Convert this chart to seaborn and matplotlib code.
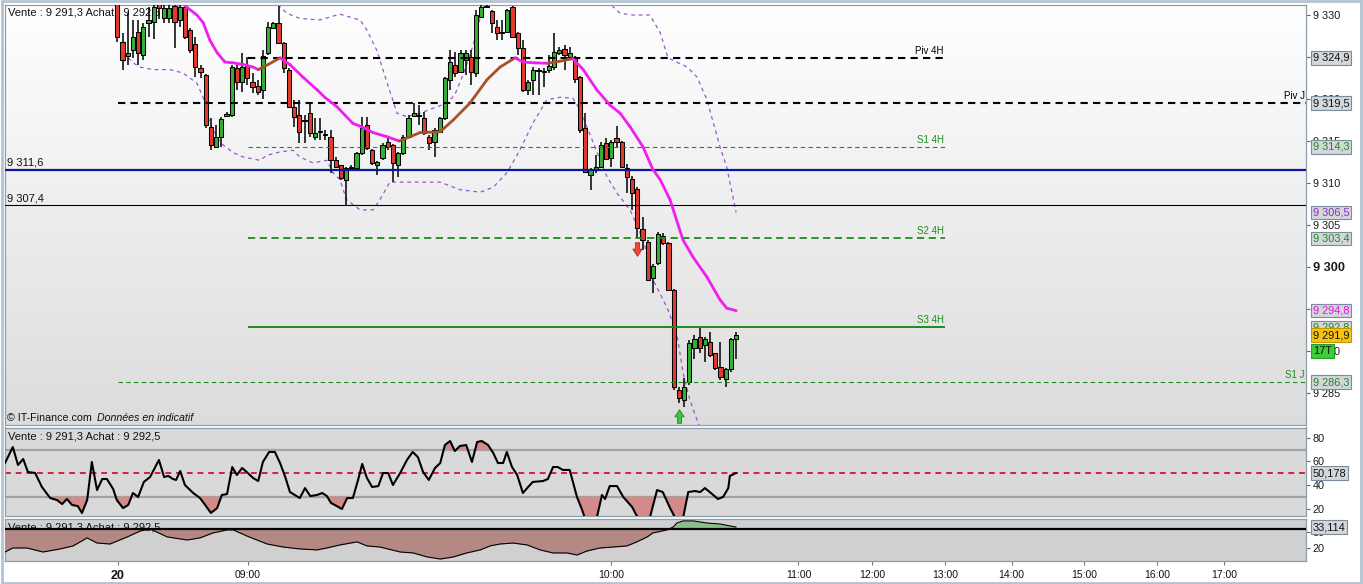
import numpy as np
import matplotlib
matplotlib.use("Agg")
import matplotlib.pyplot as plt
import matplotlib.transforms as mtransforms
from matplotlib.collections import LineCollection
from matplotlib.colors import LinearSegmentedColormap
from matplotlib.patches import Rectangle
from matplotlib.path import Path
import seaborn as sns

sns.set_theme(style="white")
plt.rcParams["font.family"] = ["Liberation Sans", "DejaVu Sans"]

# ---------------- data ----------------
opens = [9331.6, 9326.8, 9325.1, 9325.8, 9328.0, 9325.2, 9329.0, 9329.2, 9331.5, 9329.6,
         9329.6, 9331.1, 9329.4, 9331.0, 9328.2, 9326.5, 9323.7, 9322.9, 9316.7, 9314.3,
         9315.5, 9318.0, 9318.1, 9323.7, 9322.0, 9324.0, 9322.0, 9321.5, 9321.1, 9325.5,
         9328.4, 9329.0, 9326.7, 9323.5, 9319.0, 9318.1, 9317.5, 9318.3, 9315.5, 9316.1,
         9315.7, 9315.5, 9312.7, 9312.1, 9310.4, 9311.8, 9311.8, 9313.6, 9316.9, 9313.9,
         9312.1, 9313.0, 9314.9, 9314.5, 9312.1, 9313.6, 9315.5, 9318.0, 9318.1, 9317.7,
         9315.5, 9314.9, 9316.1, 9317.7, 9322.3, 9324.0, 9323.2, 9324.6, 9325.0, 9323.1,
         9329.8, 9330.9, 9330.5, 9328.6, 9328.0, 9328.0, 9331.0, 9327.9, 9326.1, 9321.1,
         9322.3, 9323.3, 9323.2, 9323.5, 9323.8, 9325.5, 9325.9, 9325.0, 9325.0, 9322.6,
         9316.5, 9311.0, 9311.5, 9311.9, 9314.8, 9313.0, 9315.4, 9314.9, 9311.8, 9310.5,
         9309.3, 9304.5, 9303.0, 9298.7, 9300.5, 9303.7, 9302.9, 9297.3, 9285.4, 9284.2,
         9286.3, 9290.4, 9291.7, 9290.7, 9291.1, 9289.8, 9288.1, 9286.7, 9287.8, 9291.4]
highs = [9332.5, 9327.9, 9330.2, 9329.4, 9329.4, 9329.0, 9331.0, 9331.5, 9332.0, 9331.5,
         9331.3, 9331.5, 9331.5, 9331.5, 9328.4, 9327.4, 9324.0, 9323.0, 9317.7, 9316.9,
         9317.9, 9318.5, 9324.0, 9324.3, 9325.5, 9325.0, 9323.1, 9322.3, 9325.8, 9329.2,
         9329.2, 9331.1, 9326.8, 9323.7, 9319.9, 9319.9, 9318.1, 9319.5, 9317.7, 9317.7,
         9316.3, 9316.3, 9313.1, 9312.2, 9311.9, 9312.2, 9313.7, 9317.9, 9317.9, 9314.0,
         9312.6, 9314.8, 9315.4, 9314.6, 9313.7, 9315.7, 9318.1, 9319.5, 9319.3, 9318.5,
         9315.7, 9316.5, 9317.9, 9322.6, 9325.8, 9325.6, 9325.8, 9325.8, 9325.8, 9330.6,
         9331.2, 9331.2, 9330.6, 9329.4, 9329.4, 9330.7, 9331.1, 9328.0, 9327.0, 9322.3,
         9323.8, 9323.7, 9323.7, 9325.2, 9327.9, 9326.2, 9326.4, 9326.2, 9325.1, 9322.7,
         9318.3, 9311.8, 9313.3, 9314.9, 9315.4, 9315.1, 9316.8, 9315.0, 9312.3, 9310.8,
         9309.5, 9305.9, 9303.2, 9300.4, 9304.2, 9304.1, 9303.0, 9297.4, 9285.7, 9286.8,
         9291.3, 9291.9, 9292.9, 9291.7, 9292.3, 9289.8, 9291.1, 9288.0, 9291.6, 9292.3]
lows = [9326.8, 9323.4, 9324.0, 9324.9, 9324.0, 9324.6, 9327.4, 9327.1, 9329.5, 9329.0,
        9329.0, 9326.1, 9328.6, 9327.2, 9325.5, 9322.6, 9322.5, 9316.5, 9313.9, 9314.2,
        9314.3, 9317.8, 9317.9, 9321.1, 9320.8, 9321.7, 9320.7, 9320.5, 9320.0, 9325.2,
        9328.3, 9326.6, 9323.1, 9318.9, 9316.7, 9314.8, 9314.8, 9315.5, 9315.1, 9315.1,
        9315.1, 9311.2, 9311.8, 9310.4, 9307.4, 9311.4, 9311.6, 9313.3, 9313.9, 9312.1,
        9311.0, 9312.7, 9313.9, 9310.1, 9310.7, 9313.3, 9315.4, 9317.9, 9316.9, 9315.7,
        9313.9, 9313.1, 9316.0, 9317.5, 9321.1, 9322.6, 9323.1, 9322.9, 9321.7, 9322.6,
        9329.6, 9330.8, 9327.9, 9327.0, 9327.0, 9327.9, 9327.3, 9325.2, 9320.8, 9320.5,
        9320.5, 9320.5, 9321.4, 9323.1, 9323.5, 9325.2, 9323.5, 9324.6, 9321.9, 9315.9,
        9311.2, 9309.2, 9311.2, 9311.8, 9312.7, 9311.9, 9314.3, 9311.8, 9308.8, 9306.8,
        9303.5, 9302.0, 9298.4, 9296.9, 9300.2, 9302.6, 9297.2, 9285.4, 9283.8, 9283.3,
        9286.0, 9289.0, 9289.8, 9288.7, 9289.3, 9287.7, 9286.6, 9285.7, 9287.5, 9289.1]
closes = [9327.4, 9324.6, 9325.5, 9327.4, 9325.5, 9328.6, 9329.4, 9331.0, 9330.8, 9330.8,
          9330.8, 9329.2, 9331.0, 9327.4, 9325.8, 9323.8, 9323.2, 9316.9, 9314.5, 9315.5,
          9317.6, 9318.2, 9323.8, 9322.0, 9323.8, 9322.5, 9321.4, 9320.8, 9325.1, 9328.6,
          9329.0, 9326.7, 9323.7, 9319.0, 9317.9, 9316.1, 9317.4, 9315.9, 9316.0, 9316.1,
          9315.8, 9312.7, 9311.9, 9310.6, 9311.8, 9311.9, 9313.6, 9316.5, 9314.2, 9312.4,
          9312.5, 9314.5, 9314.3, 9312.4, 9313.6, 9315.5, 9317.7, 9318.3, 9318.0, 9315.9,
          9314.8, 9316.3, 9317.7, 9322.5, 9324.4, 9323.1, 9325.5, 9325.5, 9323.2, 9330.0,
          9331.0, 9331.0, 9329.0, 9327.9, 9327.9, 9330.6, 9327.4, 9326.1, 9321.1, 9322.0,
          9323.5, 9323.4, 9323.3, 9323.9, 9325.6, 9325.8, 9325.2, 9325.5, 9322.4, 9316.3,
          9311.3, 9311.5, 9311.9, 9314.5, 9312.9, 9314.9, 9314.9, 9311.9, 9310.7, 9308.8,
          9304.6, 9303.2, 9298.5, 9300.1, 9303.9, 9302.9, 9297.3, 9285.7, 9284.4, 9285.7,
          9291.0, 9291.4, 9290.4, 9291.4, 9289.5, 9288.0, 9286.9, 9287.9, 9291.4, 9291.9]

# moving average (vertices, bar index -> price)
ma_x = [13.0, 15.3, 16.5, 17.8, 19.2, 20.7, 22.3, 24.2, 26.1, 27.1, 29.0, 31.3, 33.2, 35.7, 38.4,
        39.9, 42.2, 45.3, 47.3, 49.2, 51.9, 54.2, 56.3, 58.2, 62.1, 64.6, 67.8, 71.1, 73.6, 76.5,
        78.0, 80.3, 82.8, 85.1, 87.6, 89.6, 92.2, 94.7, 96.7, 98.6, 101.1, 103.0, 104.4, 106.3,
        108.8, 110.7, 113.4, 115.9, 117.2, 119.0]
ma_v = [9331.1, 9330.0, 9329.1, 9327.0, 9325.5, 9324.4, 9324.3, 9324.1, 9323.8, 9323.5, 9324.1,
        9324.9, 9324.1, 9322.6, 9321.1, 9320.2, 9319.1, 9317.1, 9316.6, 9316.0, 9315.5, 9315.0,
        9315.5, 9316.0, 9316.1, 9317.5, 9319.5, 9322.3, 9323.8, 9324.9, 9324.4, 9324.3, 9324.25,
        9324.5, 9324.8, 9323.5, 9321.1, 9319.3, 9318.3, 9316.7, 9314.3, 9311.6, 9310.4, 9308.0,
        9303.2, 9301.2, 9298.8, 9296.1, 9295.1, 9294.8]

# envelope bands
up_x = [29.0, 31.3, 32.6, 35.1, 38.9, 42.8, 46.7, 48.0, 49.9, 51.9, 53.8, 55.7, 58.2, 60.7, 63.4,
        64.9, 66.5, 67.8, 69.0, 69.9, 70.9, 79.3, 89.0, 94.3, 95.3, 96.7, 99.2, 102.4, 104.4,
        105.9, 109.6, 111.5, 113.4, 115.9, 117.2, 119.0]
up_v = [9332.5, 9331.0, 9330.2, 9329.6, 9329.4, 9330.1, 9329.4, 9328.2, 9325.8, 9321.9, 9318.3,
        9317.9, 9318.3, 9318.9, 9319.5, 9320.5, 9322.9, 9325.2, 9327.6, 9330.0, 9331.8, 9334.0,
        9334.0, 9332.0, 9331.0, 9330.2, 9330.0, 9330.0, 9327.9, 9324.9, 9323.8, 9322.6, 9319.9,
        9314.3, 9311.9, 9306.5]
lo_x = [2.1, 3.0, 4.4, 6.9, 10.1, 12.6, 15.3, 16.5, 17.8, 19.8, 22.3, 24.2, 27.4, 28.8, 31.3,
        33.8, 35.1, 37.6, 40.3, 41.5, 42.8, 44.1, 46.7, 49.2, 50.5, 52.4, 54.4, 58.2, 62.1, 65.9,
        69.8, 72.3, 74.9, 77.4, 79.9, 82.6, 85.1, 87.6, 89.0, 90.3, 92.3, 94.2, 96.1, 98.6, 100.5,
        101.9, 103.0, 105.7, 107.6, 108.8, 110.1, 111.7, 114.0, 119.0]
lo_v = [9324.9, 9324.3, 9323.8, 9323.5, 9323.5, 9323.1, 9321.9, 9320.2, 9317.1, 9314.8, 9313.6,
        9313.1, 9312.7, 9313.3, 9313.7, 9313.9, 9313.1, 9312.4, 9312.7, 9311.2, 9310.4, 9308.0,
        9306.8, 9306.8, 9308.0, 9310.1, 9310.1, 9310.1, 9310.1, 9309.2, 9308.9, 9309.5, 9311.2,
        9313.9, 9317.1, 9319.9, 9320.2, 9320.1, 9318.7, 9316.7, 9313.6, 9310.7, 9308.8, 9306.8,
        9304.1, 9301.7, 9298.5, 9295.2, 9292.1, 9287.4, 9284.2, 9281.4, 9278.2, 9274.6]

# RSI
rsi_x = [-21.6, -20.1, -19.1, -18.1, -17.2, -15.8, -14.5, -12.9, -11.6, -10.6, -9.7, -8.7, -7.6,
         -6.8, -5.8, -4.9, -3.9, -2.9, -2.0, -0.8, -0.1, 1.1, 2.1, 3.0, 4.0, 5.1, 6.3, 8.0, 9.0,
         9.8, 10.7, 11.3, 12.1, 13.0, 14.6, 15.9, 16.9, 18.0, 19.2, 20.1, 21.1, 22.1, 23.0, 24.0,
         25.1, 26.1, 27.1, 28.0, 29.2, 30.3, 31.3, 32.3, 33.2, 35.1, 36.1, 37.1, 38.4, 39.4, 40.3,
         41.1, 42.2, 43.2, 44.2, 45.3, 46.3, 47.1, 48.0, 49.0, 50.2, 51.1, 52.1, 53.0, 54.4, 55.7,
         56.8, 57.8, 58.8, 59.9, 61.1, 62.1, 63.0, 64.0, 64.9, 65.9, 67.1, 68.2, 69.2, 70.1, 71.3,
         72.3, 73.2, 74.2, 74.9, 75.9, 76.9, 78.0, 79.0, 79.9, 81.9, 82.8, 83.8, 84.7, 85.7, 87.0,
         88.4, 89.4, 89.9, 92.2, 93.2, 93.8, 94.7, 96.1, 97.3, 99.0, 100.1, 102.4, 103.8, 104.9,
         106.3, 107.3, 108.8, 109.8, 111.1, 112.1, 113.0, 114.4, 115.5, 116.5, 117.5, 117.8, 119.0]
rsi_v = [58.7, 72.3, 57.0, 62.1, 51.1, 50.2, 38.3, 28.9, 27.2, 23.8, 28.1, 23.0, 22.1, 16.2, 27.2,
         59.6, 35.7, 45.1, 45.1, 36.6, 27.2, 20.4, 23.0, 33.2, 29.8, 42.6, 46.8, 61.3, 46.8, 47.7,
         45.1, 44.3, 51.9, 40.0, 33.2, 28.9, 23.0, 16.2, 20.4, 31.5, 32.3, 55.3, 48.5, 54.5, 50.2,
         46.0, 43.4, 59.6, 68.1, 68.1, 58.7, 46.8, 34.0, 28.9, 37.4, 30.6, 31.5, 33.2, 30.6, 24.7,
         22.1, 19.6, 28.9, 28.9, 44.3, 57.9, 46.0, 38.3, 39.1, 50.2, 50.2, 40.0, 50.2, 61.3, 68.1,
         63.8, 51.1, 44.3, 54.5, 58.7, 74.0, 77.4, 68.9, 73.2, 74.0, 59.6, 76.6, 77.4, 74.0, 67.2,
         58.7, 58.7, 68.1, 55.3, 48.5, 33.2, 38.3, 42.6, 43.4, 45.1, 55.3, 55.3, 52.8, 52.8, 29.8,
         18.7, 12.0, 12.0, 31.5, 28.1, 39.1, 39.1, 29.8, 21.3, 12.0, 12.0, 35.7, 34.0, 20.4, 12.0,
         12.0, 34.0, 34.9, 34.0, 37.4, 32.3, 28.1, 29.8, 37.4, 47.7, 50.2]

# lower oscillator
osc_x = [-21.6, -20.1, -17.4, -14.3, -11.0, -8.5, -5.8, -3.9, -1.4, 1.9, 4.4, 6.3, 9.6, 13.4, 15.9,
         18.4, 21.1, 22.3, 24.9, 28.8, 31.9, 35.1, 38.4, 40.3, 42.8, 46.1, 48.0, 50.5, 54.4, 56.9,
         59.6, 62.1, 64.6, 67.2, 69.8, 71.7, 73.6, 76.1, 78.8, 81.3, 83.8, 86.5, 88.4, 90.3, 92.8,
         95.3, 98.0, 99.9, 101.9, 103.0, 105.7, 106.9, 107.6, 108.8, 110.8, 113.4, 115.9, 117.8,
         119.0]
osc_v = [17.5, 20.0, 20.0, 17.5, 19.4, 21.3, 26.3, 23.1, 22.5, 26.9, 30.6, 31.9, 26.9, 25.0, 26.3,
         29.4, 31.3, 31.3, 27.5, 22.5, 20.6, 19.4, 18.8, 20.0, 21.9, 23.8, 21.3, 20.6, 17.5, 16.9,
         14.4, 13.1, 14.4, 16.9, 18.8, 21.3, 22.5, 23.1, 21.9, 18.8, 16.9, 16.9, 15.6, 18.1, 20.0,
         20.6, 21.3, 23.8, 26.9, 29.4, 31.3, 33.1, 35.6, 36.9, 36.9, 35.6, 35.0, 33.8, 33.1]
osc_ref = 32.0

# horizontal levels
bid, ask = 9291.3, 9292.5
piv_4h, s1_4h, s2_4h, s3_4h = 9324.9, 9314.3, 9303.4, 9292.8
piv_j, s1_j = 9319.5, 9286.3
level_blue, level_low = 9311.6, 9307.4
rsi_last, osc_last = 50.178, 33.114
countdown = "17T"

# signals
sell_x, sell_y = [100], [9302.2]
buy_x, buy_y = [108], [9282.3]

# time axis
time_pos = [0.13, 25.13, 94.94, 131.0, 145.1, 159.2, 172.0, 186.0, 200.0, 212.9]
time_lbl = ["20", "09:00", "10:00", "11:00", "12:00", "13:00", "14:00", "15:00", "16:00", "17:00"]
price_ticks = [9285, 9290, 9295, 9300, 9305, 9310, 9315, 9320, 9325, 9330]

# ---------------- styling ----------------
GREEN_C = "#34b034"
RED_C = "#e23b2e"
MAGENTA = "#f01ef0"
BROWN = "#a5522a"
BAND = "#9a55d0"
LVL_G = "#1f8a1f"
SPINE = "#8d9dad"


def fr(v, d=1):
    return f"{v:,.{d}f}".replace(",", " ").replace(".", ",")


W, H = 1363, 584
fig = plt.figure(figsize=(W / 100, H / 100), dpi=100, facecolor="white")


def rect(l, t, r, b):
    return [l / W, (H - b) / H, (r - l) / W, (b - t) / H]


ax = fig.add_axes(rect(5, 5, 1306, 425))
axr = fig.add_axes(rect(5, 427.5, 1306, 515.7))
axo = fig.add_axes(rect(5, 518.7, 1306, 560.7))

for a in (ax, axr, axo):
    for s in a.spines.values():
        s.set_color(SPINE)
        s.set_linewidth(0.9)

# background gradient of the price panel
cm_bg = LinearSegmentedColormap.from_list("bg", ["#ffffff", "#dcdcdc"])
ax.imshow(np.linspace(0, 1, 256)[:, None], extent=[0, 1, 0, 1], transform=ax.transAxes,
          cmap=cm_bg, aspect="auto", zorder=0, interpolation="bilinear")
axr.set_facecolor("#d9d9d9")
axo.set_facecolor("#d0d0d0")

# header texts
ax.text(0.0025, 0.981, f"Vente : {fr(bid)} Achat : {fr(ask)}", transform=ax.transAxes,
        fontsize=8, va="center", ha="left", zorder=1, color="#111111")
ax.text(0.0015, 0.017, "© IT-Finance.com", transform=ax.transAxes, fontsize=7.7,
        va="center", ha="left", zorder=1, color="#111111")
ax.text(0.0707, 0.017, "Données en indicatif", transform=ax.transAxes, fontsize=7.7,
        va="center", ha="left", zorder=1, color="#111111", style="italic")

# bands
sns.lineplot(x=up_x, y=up_v, ax=ax, color=BAND, linewidth=0.9, linestyle=(0, (3, 3)),
             sort=False, estimator=None, zorder=2)
sns.lineplot(x=lo_x, y=lo_v, ax=ax, color=BAND, linewidth=0.9, linestyle=(0, (3, 3)),
             sort=False, estimator=None, zorder=2)

# candles
idx = np.arange(len(closes))
o = np.array(opens); c = np.array(closes); h = np.array(highs); l = np.array(lows)
up = c >= o
ax.vlines(idx, l, h, color="black", linewidth=1.1, zorder=3)
ax.bar(idx, np.maximum(np.abs(c - o), 0.12), bottom=np.minimum(o, c), width=0.78,
       color=np.where(up, GREEN_C, RED_C), edgecolor="black", linewidth=0.75, zorder=4)

# horizontal levels
tr_y = mtransforms.blended_transform_factory(ax.transAxes, ax.transData)
x_left, x_right = -21.6, 228.6
h4_from, h4_to = time_pos[1], time_pos[5]
j_from = time_pos[0]
ax.hlines(piv_4h, h4_from, h4_to, color="black", linewidth=1.5, linestyles=(0, (3.5, 2.5)), zorder=5)
ax.hlines(piv_j, j_from, x_right, color="black", linewidth=1.5, linestyles=(0, (3.5, 2.5)), zorder=5)
ax.hlines(s1_4h, h4_from, h4_to, color=LVL_G, linewidth=0.8, linestyles=(0, (4, 3)), zorder=5)
ax.hlines(s2_4h, h4_from, h4_to, color=LVL_G, linewidth=1.3, linestyles=(0, (4, 2.5)), zorder=5)
ax.hlines(s3_4h, h4_from, h4_to, color=LVL_G, linewidth=1.4, zorder=5)
ax.hlines(s1_j, j_from, x_right, color=LVL_G, linewidth=0.8, linestyles=(0, (4, 3)), zorder=5)
ax.axhline(level_blue, color="#0a18a0", linewidth=1.6, zorder=5)
ax.axhline(level_low, color="black", linewidth=0.8, zorder=5)

for name, val, col in [("Piv 4H", piv_4h, "black"), ("S1 4H", s1_4h, LVL_G),
                       ("S2 4H", s2_4h, LVL_G), ("S3 4H", s3_4h, LVL_G)]:
    ax.text(h4_to - 0.3, val + 0.25, name, fontsize=7, color=col, ha="right", va="bottom", zorder=6)
for name, val, col in [("Piv J", piv_j, "black"), ("S1 J", s1_j, LVL_G)]:
    ax.text(0.999, val + 0.25, name, transform=tr_y, fontsize=7, color=col, ha="right",
            va="bottom", zorder=6)
for val in (level_blue, level_low):
    ax.text(0.0015, val + 0.2, fr(val), transform=tr_y, fontsize=8, color="#111111",
            ha="left", va="bottom", zorder=6)

# moving average coloured by slope
mx = np.array(ma_x); mv = np.array(ma_v)
segs = np.stack([np.column_stack([mx[:-1], mv[:-1]]), np.column_stack([mx[1:], mv[1:]])], axis=1)
cols = np.where(np.diff(mv) >= 0, BROWN, MAGENTA)
ax.add_collection(LineCollection(segs, colors=cols, linewidths=2.0, capstyle="round",
                                 joinstyle="round", zorder=6))

# signal arrows
down_verts = [(-0.28, 0.9), (0.28, 0.9), (0.28, 0.05), (0.62, 0.05), (0.0, -0.9),
              (-0.62, 0.05), (-0.28, 0.05), (-0.28, 0.9)]
codes = [Path.MOVETO] + [Path.LINETO] * 6 + [Path.CLOSEPOLY]
arrow_down = Path(down_verts, codes)
arrow_up = Path([(x, -y) for x, y in down_verts], codes)
ax.scatter(sell_x, sell_y, marker=arrow_down, s=95, c="#ec4a3c", edgecolors="#b8281e",
           linewidths=0.6, zorder=7)
ax.scatter(buy_x, buy_y, marker=arrow_up, s=95, c="#3fc23f", edgecolors="#238a23",
           linewidths=0.6, zorder=7)

# right axis of price panel
ax.yaxis.tick_right()
ax.set_yticks(price_ticks)
ax.set_yticklabels([fr(v, 0) for v in price_ticks])
ax.tick_params(axis="y", right=True, direction="out", length=3, width=0.8, color="#666666",
               labelcolor="#1a1a1a", labelsize=7.8, pad=2)
ax.tick_params(axis="x", bottom=False, labelbottom=False)
for t in ax.get_yticklabels():
    if t.get_text() == fr(9300, 0):
        t.set_fontweight("bold")
        t.set_fontsize(9.2)


def value_box(axis, y, txt, color="#111111", fc="#d3d7db", ec="#7d8c9b", z=10):
    tr = mtransforms.blended_transform_factory(axis.transAxes, axis.transData)
    axis.text(1.0052, y, txt, transform=tr, ha="left", va="center", fontsize=7.9, color=color,
              zorder=z, clip_on=False,
              bbox=dict(boxstyle="square,pad=0.16", fc=fc, ec=ec, lw=0.8))


value_box(ax, piv_4h, fr(piv_4h))
value_box(ax, piv_j, fr(piv_j))
value_box(ax, s1_4h, fr(s1_4h), color=LVL_G)
value_box(ax, up_v[-1], fr(up_v[-1]), color="#8a2fc0")
value_box(ax, s2_4h, fr(s2_4h), color=LVL_G)
value_box(ax, ma_v[-1], fr(ma_v[-1]), color="#ee10ee")
value_box(ax, s3_4h, fr(s3_4h), color=LVL_G, z=10)
value_box(ax, closes[-1], fr(closes[-1]), fc="#f6c312", ec="#c89600", z=11)
value_box(ax, 9290, countdown, fc="#3ccc3c", ec="#2a9a2a", z=11)
value_box(ax, s1_j, fr(s1_j), color=LVL_G)

# ---------------- RSI panel ----------------
rx = np.array(rsi_x); rv = np.array(rsi_v)
axr.axhline(70, color="#a2a2a2", linewidth=1.6, zorder=1)
axr.axhline(30, color="#a2a2a2", linewidth=1.6, zorder=1)
axr.axhline(50, color="#d3203f", linewidth=1.4, linestyle=(0, (3, 2.5)), zorder=1)
axr.fill_between(rx, rv, 30, where=rv < 30, interpolate=True, color="#d58a8a", lw=0, zorder=2)
axr.fill_between(rx, rv, 70, where=rv > 70, interpolate=True, color="#d58a8a", lw=0, zorder=2)
sns.lineplot(x=rx, y=rv, ax=axr, color="black", linewidth=1.5, sort=False, estimator=None, zorder=3)
axr.text(0.0025, 0.895, f"Vente : {fr(bid)} Achat : {fr(ask)}", transform=axr.transAxes,
         fontsize=8, va="center", ha="left", zorder=4, color="#111111")
axr.yaxis.tick_right()
axr.set_yticks([20, 40, 60, 80])
axr.set_yticklabels(["20", "40", "60", "80"])
axr.tick_params(axis="y", right=True, direction="out", length=3, width=0.8, color="#666666",
                labelcolor="#1a1a1a", labelsize=7.8, pad=2)
axr.tick_params(axis="x", bottom=False, labelbottom=False)
value_box(axr, rsi_last, fr(rsi_last, 3))

# ---------------- oscillator panel ----------------
ox = np.array(osc_x); ov = np.array(osc_v)
axo.text(0.0025, 0.80, f"Vente : {fr(bid)} Achat : {fr(ask)}", transform=axo.transAxes,
         fontsize=8, va="center", ha="left", zorder=1, color="#111111")
axo.fill_between(ox, ov, osc_ref, where=ov <= osc_ref, interpolate=True, color="#b48884",
                 lw=0, zorder=2)
axo.fill_between(ox, ov, osc_ref, where=ov >= osc_ref, interpolate=True, color="#8dbd8a",
                 lw=0, zorder=2)
sns.lineplot(x=ox, y=ov, ax=axo, color="black", linewidth=0.8, sort=False, estimator=None, zorder=3)
axo.axhline(osc_ref, color="black", linewidth=1.6, zorder=4)
axo.yaxis.tick_right()
axo.set_yticks([20, 30])
axo.set_yticklabels(["20", "30"])
axo.tick_params(axis="y", right=True, direction="out", length=3, width=0.8, color="#666666",
                labelcolor="#1a1a1a", labelsize=7.8, pad=2)
value_box(axo, osc_last, fr(osc_last, 3))
axo.set_xticks(time_pos)
axo.set_xticklabels(time_lbl)
axo.tick_params(axis="x", bottom=True, direction="out", length=3, width=0.8, color="#777777",
                labelcolor="#111111", labelsize=7.5, pad=4)
first = axo.get_xticklabels()[0]
first.set_fontweight("bold")
first.set_fontsize(9)

for a in (ax, axr, axo):
    a.set_xlabel("")
    a.set_ylabel("")
    a.set_xlim(x_left, x_right)
ax.set_ylim(9281.19, 9331.19)
axr.set_ylim(13.9, 88.9)
axo.set_ylim(12.06, 38.3)

fig.add_artist(Rectangle((0.0012, 0.002), 0.9976, 0.996, transform=fig.transFigure,
                         fill=False, ec="#b3c3d3", lw=2))

fig.savefig("out.png", dpi=100, facecolor="white")
